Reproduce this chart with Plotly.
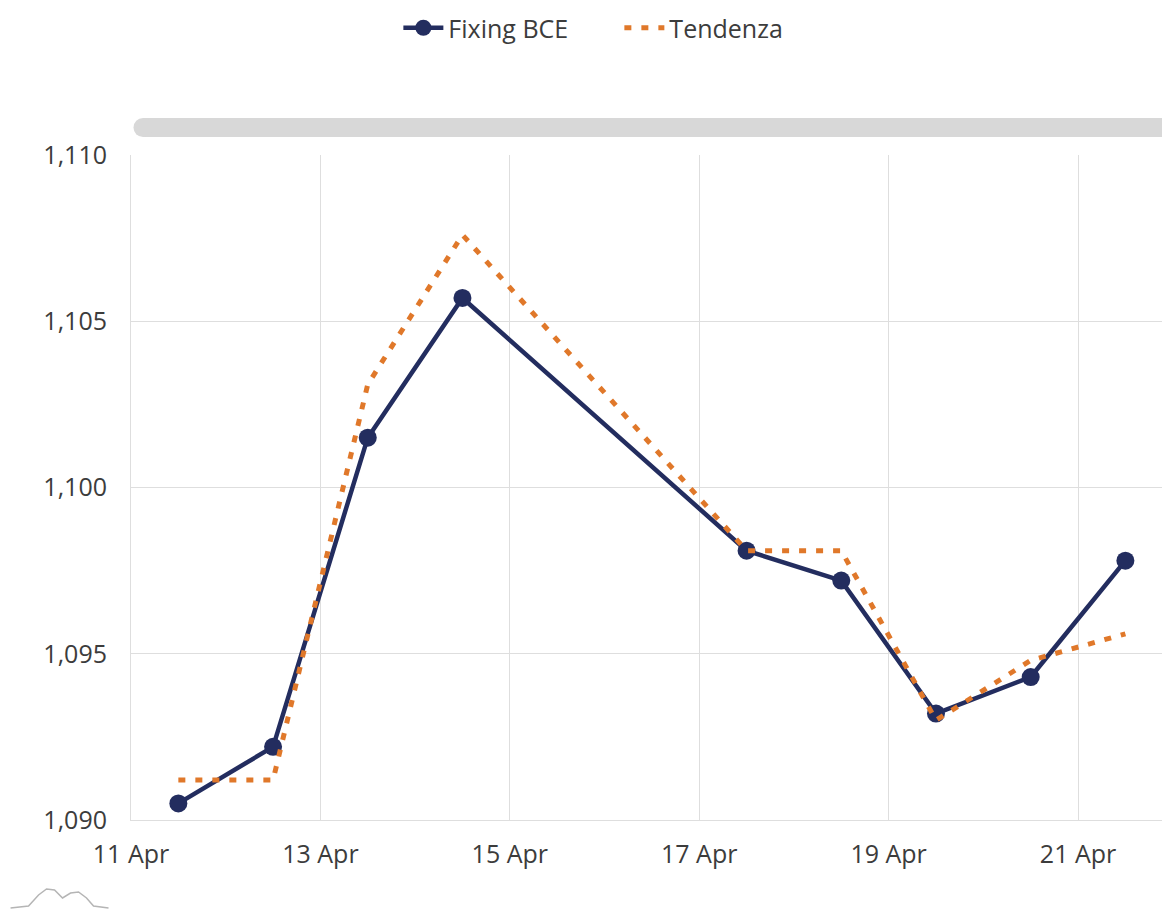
import pandas as pd
import plotly.graph_objects as go

# ECB EUR/USD fixings (business days) and trend line
dates = ["2023-04-11", "2023-04-12", "2023-04-13", "2023-04-14", "2023-04-17",
         "2023-04-18", "2023-04-19", "2023-04-20", "2023-04-21"]
fixing = [1.0905, 1.0922, 1.1015, 1.1057, 1.0981, 1.0972, 1.0932, 1.0943, 1.0978]
tendenza = [1.0912, 1.0912, 1.1031, 1.1076, 1.0981, 1.0981, 1.0930, 1.0948, 1.0956]
x_ticks = ["2023-04-11", "2023-04-13", "2023-04-15", "2023-04-17", "2023-04-19", "2023-04-21"]

# each value sits in the middle of its day cell
x_mid = pd.to_datetime(dates) + pd.Timedelta(hours=12)

W, H = 1162, 911
L, R, T, B = 130.5, 1162, 155, 820  # plot area edges in pixels

NAVY = "#232d5f"
ORANGE = "#e0782a"
GRID = "#dedede"
TEXT = "#3c3c3c"
FONT = "Open Sans"
FS = 25

fig = go.Figure()
fig.add_trace(go.Scatter(
    x=x_mid, y=fixing, name="Fixing BCE", mode="lines+markers",
    line=dict(color=NAVY, width=4.5),
    marker=dict(color=NAVY, size=18),
))
fig.add_trace(go.Scatter(
    x=x_mid, y=tendenza, name="Tendenza", mode="lines",
    line=dict(color=ORANGE, width=5, dash="7px,10px"),
))


def px(xp):
    return (xp - L) / (R - L)


def py(yp):
    return (B - yp) / (B - T)


# horizontal scrollbar above the plot
sb_top, sb_bot, sb_left = 118, 137, 133
r = (sb_bot - sb_top) / 2
shapes = [
    dict(type="rect", xref="paper", yref="paper",
         x0=px(sb_left + r), x1=1.05, y0=py(sb_bot), y1=py(sb_top),
         fillcolor="#d8d8d8", line=dict(width=0), layer="above"),
    dict(type="circle", xref="paper", yref="paper",
         x0=px(sb_left), x1=px(sb_left + 2 * r), y0=py(sb_bot), y1=py(sb_top),
         fillcolor="#d8d8d8", line=dict(width=0), layer="above"),
]

# small mountain logo in the bottom-left corner
logo_pts = [(10, 908), (28, 906), (38, 895), (46, 889), (54, 890), (62, 898),
            (70, 893), (78, 892), (86, 898), (93, 906), (108, 908)]
logo_path = "M " + " L ".join(f"{px(a):.5f},{py(b):.5f}" for a, b in logo_pts)
shapes.append(dict(type="path", xref="paper", yref="paper", path=logo_path,
                   line=dict(color="#b5b5b5", width=1.5)))

fig.update_layout(
    width=W, height=H,
    margin=dict(l=L, r=W - R, t=T, b=H - B),
    paper_bgcolor="white", plot_bgcolor="white",
    separators=",.",
    font=dict(family=FONT, size=FS, color=TEXT),
    showlegend=True,
    legend=dict(orientation="h", x=px(398), xanchor="left",
                y=py(28), yanchor="middle",
                font=dict(family=FONT, size=FS, color=TEXT),
                itemwidth=40, entrywidth=166, entrywidthmode="pixels",
                bgcolor="rgba(0,0,0,0)"),
    xaxis=dict(
        type="date",
        range=[pd.Timestamp("2023-04-11"),
               pd.Timestamp("2023-04-11") + pd.Timedelta(days=(R - L) / 94.75)],
        tickvals=pd.to_datetime(x_ticks), tickformat="%d %b",
        showgrid=True, gridcolor=GRID, gridwidth=1,
        showline=True, linecolor=GRID, linewidth=1,
        ticks="", ticklabelstandoff=12, zeroline=False,
        tickfont=dict(family=FONT, size=FS, color=TEXT),
    ),
    yaxis=dict(
        range=[1.090, 1.110], tickvals=[1.090, 1.095, 1.100, 1.105, 1.110],
        tickformat=".3f",
        showgrid=True, gridcolor=GRID, gridwidth=1,
        showline=True, linecolor=GRID, linewidth=1,
        ticks="", ticklabelstandoff=18, zeroline=False,
        tickfont=dict(family=FONT, size=FS, color=TEXT),
    ),
    shapes=shapes,
    hovermode=False,
)

fig.write_html("out.html", config={"displayModeBar": False})
